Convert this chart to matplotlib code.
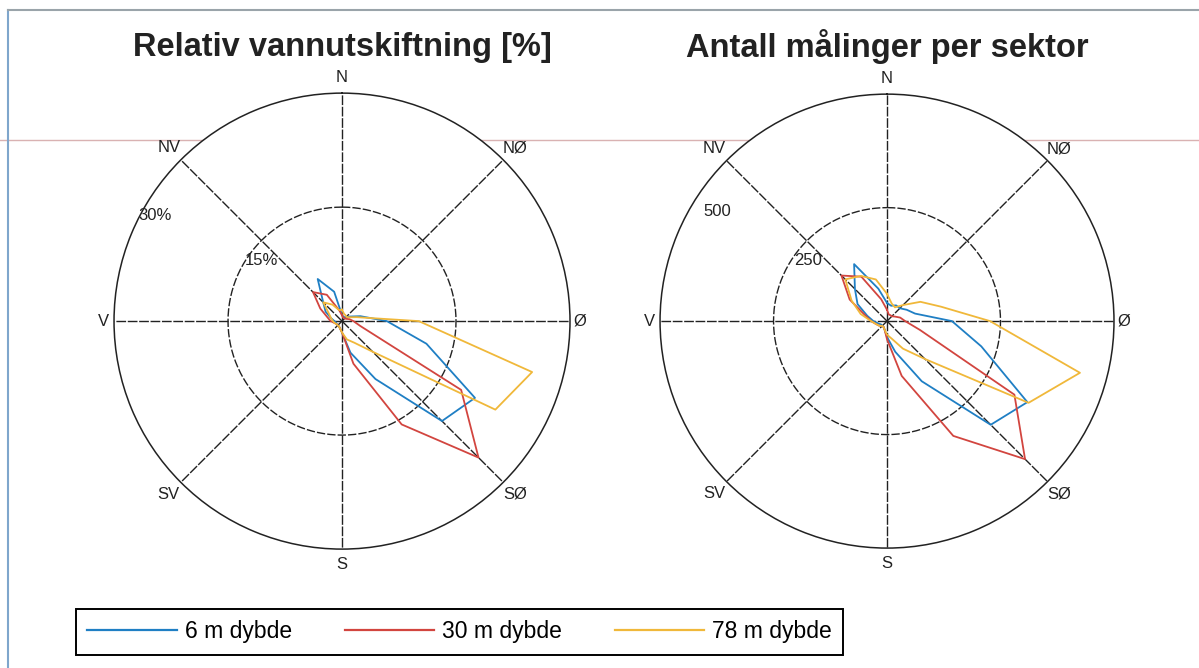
import numpy as np
import matplotlib.pyplot as plt
from matplotlib.lines import Line2D

plt.rcParams['font.family'] = ['Liberation Sans', 'DejaVu Sans']

# sector directions (compass degrees, 15 degree sectors)
directions = np.arange(0, 360, 15)

# relative water exchange per sector [%]
pct_6m = [0.8, 0.6, 0.6, 0.8, 1.2, 2.5, 5.9, 11.5, 20.2, 18.6, 8.8, 4.3,
          1.5, 1.0, 0.8, 0.8, 0.8, 0.8, 1.0, 1.5, 2.5, 3.5, 6.4, 4.0]
pct_30m = [0.8, 0.5, 0.5, 0.5, 0.6, 1.0, 1.5, 2.5, 18.1, 25.4, 15.7, 5.8,
           1.5, 1.0, 0.8, 0.8, 0.8, 1.0, 1.5, 2.0, 3.3, 5.4, 4.0, 1.5]
pct_78m = [1.5, 1.0, 0.9, 0.8, 1.0, 2.0, 10.1, 25.9, 23.3, 5.7, 3.3, 2.5,
           1.5, 1.0, 0.8, 0.8, 0.8, 1.0, 1.2, 1.5, 2.0, 3.5, 2.5, 1.5]

# number of measurements per sector
cnt_6m = [40, 35, 40, 40, 50, 64, 143, 215, 357, 323, 153, 70,
          35, 20, 15, 15, 15, 20, 30, 45, 75, 100, 145, 74]
cnt_30m = [25, 15, 15, 15, 20, 30, 40, 75, 324, 430, 292, 125,
           40, 20, 15, 15, 20, 25, 35, 50, 95, 142, 113, 50]
cnt_78m = [60, 40, 35, 50, 85, 123, 227, 440, 360, 118, 70, 40,
           30, 20, 15, 15, 20, 25, 35, 60, 90, 130, 115, 95]

series_names = ['6 m dybde', '30 m dybde', '78 m dybde']
colors = ['#1f7fc4', '#d2453f', '#f0b83a']

compass = ['N', 'NØ', 'Ø', 'SØ', 'S', 'SV', 'V', 'NV']
compass_deg = [0, 45, 90, 135, 180, 225, 270, 315]
compass_rel = [1.068, 1.075, 1.045, 1.075, 1.068, 1.075, 1.045, 1.075]

fig = plt.figure(figsize=(11.99, 6.68), dpi=100)
fig.patch.set_facecolor('white')


def rose(rect, title, data, rmax, ticks, ticklabels, tickpos):
    ax = fig.add_axes(rect, projection='polar')
    ax.set_theta_zero_location('N')
    ax.set_theta_direction(-1)
    ax.set_ylim(0, rmax)
    ax.grid(False)
    ax.set_xticks([])
    ax.set_yticks([])
    ax.spines['polar'].set_color('#222222')
    ax.spines['polar'].set_linewidth(1.1)

    th = np.linspace(0, 2 * np.pi, 361)
    ax.plot(th, np.full_like(th, ticks[0]), color='#222222', lw=1.0,
            ls=(0, (6, 1.5)))
    for d in compass_deg[:4]:
        t = np.deg2rad(d)
        ax.plot([t, t], [0, rmax], color='#222222', lw=1.0,
                ls=(0, (7, 1.2)), zorder=1)
        ax.plot([t + np.pi, t + np.pi], [0, rmax], color='#222222', lw=1.0,
                ls=(0, (7, 1.2)), zorder=1)

    for vals, c in zip(data, colors):
        th_d = np.deg2rad(np.append(directions, directions[0]))
        r_d = np.append(vals, vals[0])
        ax.plot(th_d, r_d, color=c, lw=1.3, zorder=3)

    for lab, d, k in zip(compass, compass_deg, compass_rel):
        ax.text(np.deg2rad(d), rmax * k, lab, ha='center', va='center',
                fontsize=12, color='#222222')

    for lab, (ang, rr) in zip(ticklabels, tickpos):
        ax.text(np.deg2rad(ang), rr, lab, ha='center', va='center',
                fontsize=12, color='#222222')

    ax.set_title(title, fontsize=23.5, fontweight='bold', pad=27,
                 color='#222222')
    return ax


rose([0.0951, 0.178, 0.3803, 0.6826], 'Relativ vannutskiftning [%]',
     [pct_6m, pct_30m, pct_78m], 30, [15, 30], ['30%', '15%'],
     [(299.5, 28.3), (307, 13.2)])
rose([0.5505, 0.178, 0.3786, 0.6826], 'Antall målinger per sektor',
     [cnt_6m, cnt_30m, cnt_78m], 500, [250, 500], ['500', '250'],
     [(302.7, 445), (307.7, 220)])

handles = [Line2D([], [], color=c, lw=1.6) for c in colors]
leg = fig.legend(handles, series_names, ncol=3, loc='center left',
                 bbox_to_anchor=(0.0634, 0.054), borderaxespad=0,
                 fontsize=16.5, handlelength=3.9, handletextpad=0.35,
                 columnspacing=2.3, fancybox=False, edgecolor='black',
                 borderpad=0.5, framealpha=1)
leg.get_frame().set_linewidth(1.4)

# page frame and the ruled line across the sheet
fig.add_artist(Line2D([8 / 1199, 8 / 1199], [0, 1 - 10 / 668],
                      color='#7fa6cc', lw=1.5))
fig.add_artist(Line2D([8 / 1199, 1], [1 - 10 / 668, 1 - 10 / 668],
                      color='#9aa4aa', lw=1.5))
fig.add_artist(Line2D([0, 1], [1 - 140 / 668, 1 - 140 / 668],
                      color='#d9b2b2', lw=1.0, zorder=0))

fig.savefig('out.png', dpi=100, facecolor='white')
